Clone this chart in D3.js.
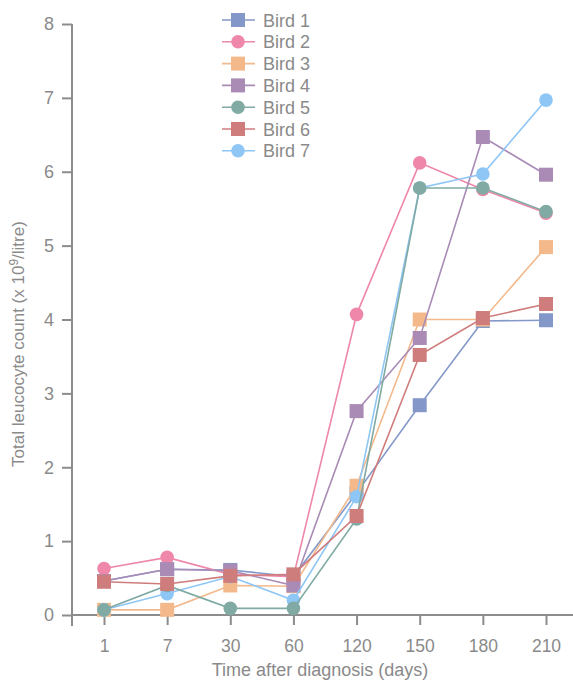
<!DOCTYPE html>
<html>
<head>
<meta charset="utf-8">
<script src="https://cdn.jsdelivr.net/npm/d3@7"></script>
<style>
  body { margin: 0; background: #fff; }
  text { font-family: "Liberation Sans", Arial, sans-serif; fill: #8a8a8a; }
</style>
</head>
<body>
<div id="chart-area"></div>
<script>
// days on the x axis (treated as categories)
var days = ['1', '7', '30', '60', '120', '150', '180', '210'];
var birds = ['Bird 1', 'Bird 2', 'Bird 3', 'Bird 4', 'Bird 5', 'Bird 6', 'Bird 7'];
var shapes = ['square', 'circle', 'square', 'square', 'circle', 'square', 'circle'];
var colors = ['#8398c9', '#ee87a9', '#f3b98b', '#a98bb6', '#80aaa3', '#cf7c7c', '#8ec6f6'];

// leucocyte counts (x 10^9/litre), one array per bird
var bird1 = [0.46, 0.62, 0.61, 0.52, 1.65, 2.84, 3.98, 3.99];
var bird2 = [0.63, 0.78, 0.55, 0.52, 4.07, 6.12, 5.76, 5.44];
var bird3 = [0.07, 0.07, 0.40, 0.39, 1.75, 4.00, 4.00, 4.98];
var bird4 = [0.46, 0.62, 0.60, 0.40, 2.76, 3.75, 6.47, 5.96];
var bird5 = [0.07, 0.40, 0.09, 0.09, 1.30, 5.78, 5.78, 5.46];
var bird6 = [0.45, 0.42, 0.53, 0.55, 1.34, 3.52, 4.02, 4.21];
var bird7 = [0.07, 0.29, 0.52, 0.20, 1.60, 5.78, 5.97, 6.97];
var values = [bird1, bird2, bird3, bird4, bird5, bird6, bird7];

var yTicks = [0, 1, 2, 3, 4, 5, 6, 7, 8];

var width = 573, height = 680;
var axisColor = '#8c8c8c';

var svg = d3.select('#chart-area').append('svg')
    .attr('width', width)
    .attr('height', height);

var x = d3.scalePoint()
    .domain(days)
    .range([104, 546]);

var y = d3.scaleLinear()
    .domain([0, 8])
    .range([615, 24]);

// y axis
var yAxis = svg.append('g')
    .attr('transform', 'translate(72,0)')
    .call(d3.axisLeft(y).tickValues(yTicks).tickSize(10).tickPadding(8).tickSizeOuter(0));
yAxis.select('.domain').remove();
yAxis.append('line')
    .attr('x1', 0).attr('x2', 0)
    .attr('y1', y(8)).attr('y2', 626)
    .attr('stroke', axisColor).attr('stroke-width', 2);
yAxis.selectAll('.tick line').attr('stroke', axisColor).attr('stroke-width', 2);
yAxis.selectAll('.tick text')
    .attr('fill', axisColor)
    .style('font-size', '18px');

// x axis
var xAxis = svg.append('g')
    .attr('transform', 'translate(0,615)')
    .call(d3.axisBottom(x).tickSize(10).tickPadding(15).tickSizeOuter(0));
xAxis.select('.domain').remove();
xAxis.append('line')
    .attr('x1', 72).attr('x2', width)
    .attr('y1', 0).attr('y2', 0)
    .attr('stroke', axisColor).attr('stroke-width', 2);
xAxis.selectAll('.tick line').attr('stroke', axisColor).attr('stroke-width', 2);
xAxis.selectAll('.tick text')
    .attr('fill', axisColor)
    .style('font-size', '17.5px');

// axis titles
svg.append('text')
    .attr('x', 320)
    .attr('y', 676)
    .attr('text-anchor', 'middle')
    .style('font-size', '18px')
    .text('Time after diagnosis (days)');

var yTitle = svg.append('text')
    .attr('transform', 'translate(24,344) rotate(-90)')
    .attr('text-anchor', 'middle')
    .style('font-size', '17px');
yTitle.append('tspan').text('Total leucocyte count (x 10');
yTitle.append('tspan').attr('dy', -6).style('font-size', '12px').text('9');
yTitle.append('tspan').attr('dy', 6).text('/litre)');

// lines and markers
var line = d3.line()
    .x(function (d, i) { return x(days[i]); })
    .y(function (d) { return y(d); });

function drawMarker(g, shape, color, cx, cy) {
    if (shape === 'circle') {
        g.append('circle')
            .attr('cx', cx).attr('cy', cy).attr('r', 6.8)
            .attr('fill', color);
    } else {
        g.append('rect')
            .attr('x', cx - 7).attr('y', cy - 7)
            .attr('width', 14).attr('height', 14)
            .attr('fill', color);
    }
}

var order = [0, 1, 2, 3, 6, 4, 5];
order.forEach(function (b) {
    var g = svg.append('g');
    g.append('path')
        .datum(values[b])
        .attr('d', line)
        .attr('fill', 'none')
        .attr('stroke', colors[b])
        .attr('stroke-width', 1.6);
    values[b].forEach(function (v, i) {
        drawMarker(g, shapes[b], colors[b], x(days[i]), y(v));
    });
});

// legend
var legend = svg.append('g').attr('transform', 'translate(222,20)');
birds.forEach(function (name, i) {
    var row = legend.append('g').attr('transform', 'translate(0,' + (i * 21.8) + ')');
    row.append('line')
        .attr('x1', 0).attr('x2', 33)
        .attr('y1', 0).attr('y2', 0)
        .attr('stroke', colors[i]).attr('stroke-width', 1.6);
    drawMarker(row, shapes[i], colors[i], 16, 0);
    row.append('text')
        .attr('x', 41)
        .attr('y', 6.5)
        .style('font-size', '18px')
        .text(name);
});
</script>
</body>
</html>
